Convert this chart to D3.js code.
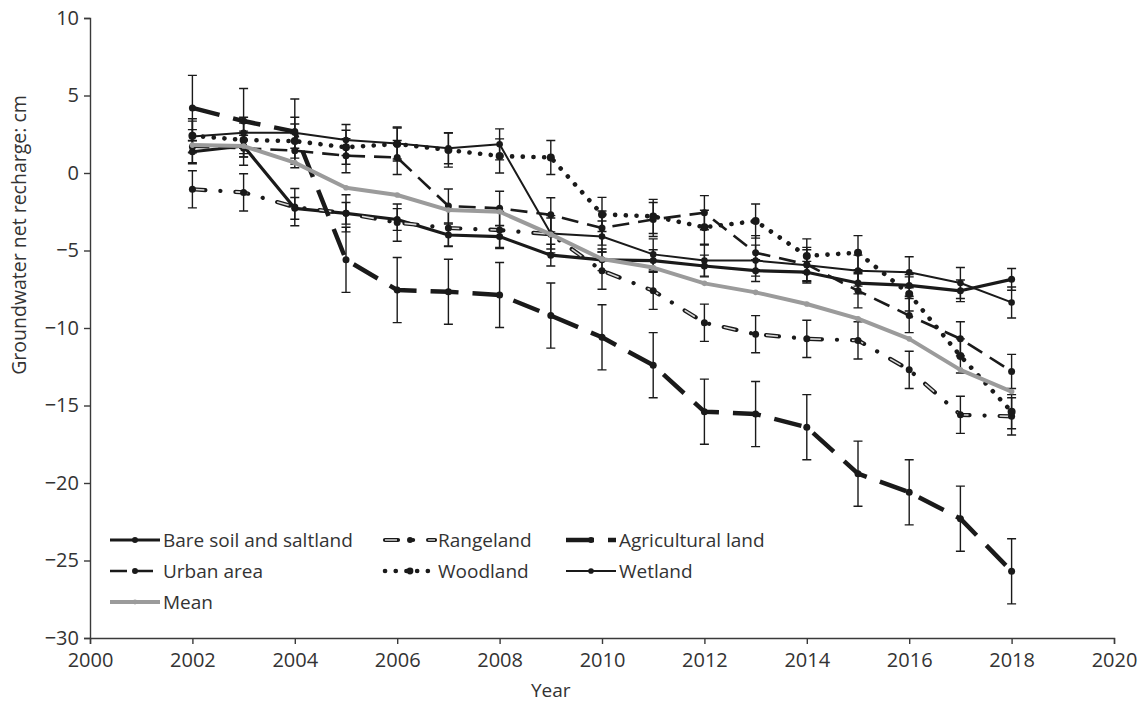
<!DOCTYPE html>
<html>
<head>
<meta charset="utf-8">
<script src="https://cdn.jsdelivr.net/npm/d3@7"></script>
<style>
  body { margin: 0; background: #fff; }
  text { font-family: "Open Sans", sans-serif; fill: #333; }
</style>
</head>
<body>
<div id="wrapper"></div>
<script>

// data
const years = [2002, 2003, 2004, 2005, 2006, 2007, 2008, 2009, 2010, 2011, 2012, 2013, 2014, 2015, 2016, 2017, 2018];

const bareSoil = [1.37, 1.74, -2.28, -2.6, -3.0, -4.0, -4.1, -5.3, -5.6, -5.65, -6.0, -6.3, -6.4, -7.1, -7.25, -7.6, -6.86];
const rangeland = [-1.05, -1.25, -2.2, -2.6, -3.2, -3.55, -3.68, -3.95, -6.3, -7.6, -9.66, -10.4, -10.7, -10.8, -12.7, -15.6, -15.7];
const agricultural = [4.2, 3.35, 2.67, -5.6, -7.55, -7.66, -7.87, -9.2, -10.6, -12.4, -15.4, -15.55, -16.4, -19.4, -20.6, -22.3, -25.7];
const urban = [1.7, 1.6, 1.44, 1.12, 1.0, -2.13, -2.28, -2.7, -3.55, -3.0, -2.56, -5.14, -5.9, -7.6, -9.2, -10.7, -12.8];
const woodland = [2.4, 2.13, 2.06, 1.66, 1.87, 1.48, 1.1, 1.0, -2.67, -2.8, -3.5, -3.1, -5.35, -5.14, -7.8, -11.8, -15.4];
const wetland = [2.35, 2.6, 2.6, 2.13, 1.9, 1.6, 1.85, -3.9, -4.1, -5.25, -5.65, -5.65, -5.95, -6.3, -6.4, -7.1, -8.35];
const meanValues = [1.8, 1.74, 0.67, -0.95, -1.42, -2.39, -2.5, -3.96, -5.55, -6.1, -7.12, -7.7, -8.45, -9.4, -10.7, -12.7, -14.1];

const seriesNames = ["Bare soil and saltland", "Rangeland", "Agricultural land", "Urban area", "Woodland", "Wetland", "Mean"];
// half-length of the error bars, one per series (mean has none)
const errorSizes = [0.7, 1.2, 2.1, 1.1, 1.1, 1.0, 0];

const xTicks = [2000, 2002, 2004, 2006, 2008, 2010, 2012, 2014, 2016, 2018, 2020];
const yTicks = [10, 5, 0, -5, -10, -15, -20, -25, -30];

function drawChart() {

    const dimentions = {
        width: 1142,
        height: 703,
        margin: { top: 18, right: 28, bottom: 65, left: 90 }
    }
    dimentions.boundedWidth = dimentions.width - dimentions.margin.left - dimentions.margin.right;
    dimentions.boundedHeight = dimentions.height - dimentions.margin.top - dimentions.margin.bottom;

    const values = [bareSoil, rangeland, agricultural, urban, woodland, wetland, meanValues];

    // line look per series
    const styles = [
        { stroke: "#1a1a1a", width: 3.2, dash: null, r: 3.5 },
        { stroke: "#1a1a1a", width: 4.2, dash: "13,15,0.1,15", cap: "round", inner: "12,31.1", r: 3.5 },
        { stroke: "#1a1a1a", width: 4.5, dash: "28,14", r: 3.5 },
        { stroke: "#1a1a1a", width: 2.6, dash: "17,9", r: 3.5 },
        { stroke: "#1a1a1a", width: 4.6, dash: "0.1,10.6", cap: "round", r: 4 },
        { stroke: "#1a1a1a", width: 2, dash: null, r: 3.3 },
        { stroke: "#9b9b9b", width: 4, dash: null, r: 2.8 }
    ];

    const series = seriesNames.map((name, i) => ({
        name: name,
        style: styles[i],
        err: errorSizes[i],
        points: years.map((y, j) => ({ year: y, value: values[i][j] }))
    }));

    const wrapper = d3.select("#wrapper")
        .append("svg")
        .attr("width", dimentions.width)
        .attr("height", dimentions.height)

    const bounds = wrapper.append("g")
        .attr("transform", `translate(${dimentions.margin.left},${dimentions.margin.top})`)

    const xScale = d3.scaleLinear()
        .domain([2000, 2020])
        .range([0, dimentions.boundedWidth])

    const yScale = d3.scaleLinear()
        .domain([-30, 10])
        .range([dimentions.boundedHeight, 0])

    // axes
    const xAxisGenerator = d3.axisBottom(xScale)
        .tickValues(xTicks)
        .tickFormat(d3.format("d"))
        .tickSizeOuter(0)
        .tickSize(6)
        .tickPadding(9)
    const yAxisGenerator = d3.axisLeft(yScale)
        .tickValues(yTicks)
        .tickSizeOuter(0)
        .tickSize(6)
        .tickPadding(5)

    const xAxis = bounds.append("g")
        .attr("transform", `translate(0,${dimentions.boundedHeight})`)
        .call(xAxisGenerator)
    const yAxis = bounds.append("g")
        .call(yAxisGenerator)

    bounds.selectAll(".domain, .tick line")
        .attr("stroke", "#3a3a3a")
        .attr("stroke-width", 1.4)
    bounds.selectAll(".tick text")
        .attr("fill", "#333")
        .style("font-family", "'Open Sans', sans-serif")
        .style("font-size", "20px")

    wrapper.append("text")
        .attr("x", dimentions.margin.left + xScale(2009.0))
        .attr("y", 697)
        .attr("text-anchor", "middle")
        .style("font-size", "19px")
        .text("Year")

    wrapper.append("text")
        .attr("transform", "translate(26,235) rotate(-90)")
        .attr("text-anchor", "middle")
        .style("font-size", "19.5px")
        .text("Groundwater net recharge: cm")

    // error bars
    const errGroup = bounds.append("g")
    series.filter(s => s.err > 0).forEach(s => {
        const g = errGroup.append("g")
            .attr("stroke", "#1a1a1a")
            .attr("stroke-width", 1.4)
        g.selectAll(".bar")
            .data(s.points)
            .enter()
            .append("path")
            .attr("fill", "none")
            .attr("d", d => {
                const x = xScale(d.year);
                const y0 = yScale(d.value + s.err);
                const y1 = yScale(d.value - s.err);
                return `M${x - 4.5},${y0}H${x + 4.5}M${x},${y0}V${y1}M${x - 4.5},${y1}H${x + 4.5}`;
            })
    })

    const lineGenerator = d3.line()
        .x(d => xScale(d.year))
        .y(d => yScale(d.value))

    function drawSeries(g, s, gen, pts) {
        const st = s.style;
        g.append("path")
            .datum(pts)
            .attr("fill", "none")
            .attr("stroke", st.stroke)
            .attr("stroke-width", st.width)
            .attr("stroke-dasharray", st.dash)
            .attr("stroke-linecap", st.cap || "butt")
            .attr("stroke-linejoin", "round")
            .attr("d", gen)
        if (st.inner) {
            g.append("path")
                .datum(pts)
                .attr("fill", "none")
                .attr("stroke", "#d8d8d8")
                .attr("stroke-width", 1.6)
                .attr("stroke-dasharray", st.inner)
                .attr("stroke-linejoin", "round")
                .attr("d", gen)
        }
    }

    const lines = bounds.append("g")
    series.forEach(s => {
        const g = lines.append("g")
        drawSeries(g, s, lineGenerator, s.points)
        g.selectAll("circle")
            .data(s.points)
            .enter()
            .append("circle")
            .attr("cx", d => xScale(d.year))
            .attr("cy", d => yScale(d.value))
            .attr("r", s.style.r)
            .attr("fill", s.style.stroke)
    })

    // legend
    const legendCols = [110, 385, 566];
    const legendRows = [540, 571, 602];
    const legend = wrapper.append("g")
    series.forEach((s, i) => {
        const lx = legendCols[i % 3];
        const ly = legendRows[Math.floor(i / 3)];
        const item = legend.append("g")
            .attr("transform", `translate(${lx},${ly})`)
        const sampleLine = d3.line().x(d => d[0]).y(d => d[1])
        drawSeries(item, s, sampleLine, [[0, 0], [50, 0]])
        item.append("circle")
            .attr("cx", 25)
            .attr("cy", 0)
            .attr("r", s.style.r * 0.85)
            .attr("fill", s.style.stroke)
        item.append("text")
            .attr("x", 53)
            .attr("y", 0)
            .attr("dy", "0.35em")
            .style("font-size", "19px")
            .text(s.name)
    })
}

drawChart();
</script>
</body>
</html>
